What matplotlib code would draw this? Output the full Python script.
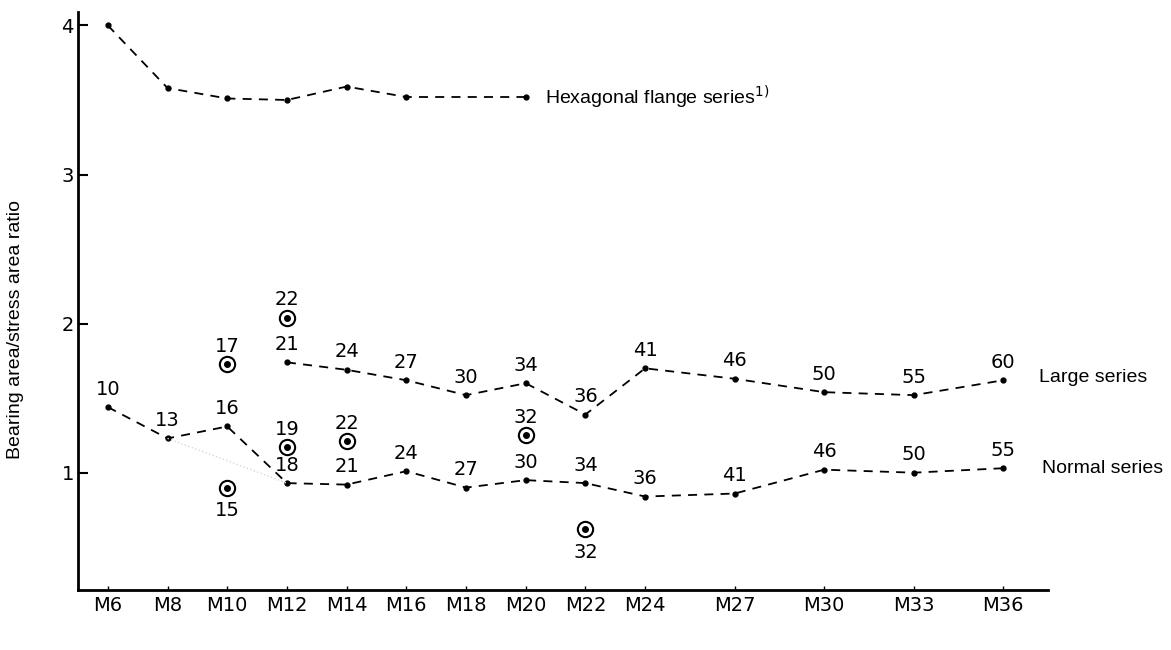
import matplotlib.pyplot as plt

# thread sizes and their nominal diameters (x position)
sizes = ['M6', 'M8', 'M10', 'M12', 'M14', 'M16', 'M18', 'M20', 'M22', 'M24',
         'M27', 'M30', 'M33', 'M36']
diam = [6, 8, 10, 12, 14, 16, 18, 20, 22, 24, 27, 30, 33, 36]

# hexagonal flange series
hex_d = [6, 8, 10, 12, 14, 16, 20]
hex_ratio = [4.00, 3.58, 3.51, 3.50, 3.59, 3.52, 3.52]

# large series (ratio + width across flats)
large_d = [12, 14, 16, 18, 20, 22, 24, 27, 30, 33, 36]
large_ratio = [1.74, 1.69, 1.62, 1.52, 1.60, 1.39, 1.70, 1.63, 1.54, 1.52, 1.62]
large_af = [21, 24, 27, 30, 34, 36, 41, 46, 50, 55, 60]

# normal series
normal_d = diam
normal_ratio = [1.44, 1.23, 1.31, 0.93, 0.92, 1.01, 0.90, 0.95, 0.93, 0.84,
                0.86, 1.02, 1.00, 1.03]
normal_af = [10, 13, 16, 18, 21, 24, 27, 30, 34, 36, 41, 46, 50, 55]

# alternative widths across flats (circled points)
alt_d = [10, 10, 12, 12, 14, 20, 22]
alt_ratio = [1.73, 0.90, 2.04, 1.17, 1.21, 1.25, 0.62]
alt_af = [17, 15, 22, 19, 22, 32, 32]
alt_below = [False, True, False, False, False, False, True]

num_font = ['Liberation Sans Narrow', 'DejaVu Sans Condensed', 'DejaVu Sans']
txt_font = ['Liberation Sans', 'DejaVu Sans']

fig = plt.figure(figsize=(11.71, 6.5), dpi=100)
ax = fig.add_axes([0.0666, 0.0923, 0.8284, 0.8892])

line_kw = dict(color='black', lw=1.3, linestyle=(0, (5, 4)), marker='o',
               markersize=3.5)
ax.plot(hex_d, hex_ratio, **line_kw)
ax.plot(large_d, large_ratio, **line_kw)
ax.plot(normal_d, normal_ratio, **line_kw)
# faint dotted trace between M8 and M12
ax.plot([normal_d[1], normal_d[3]], [normal_ratio[1], normal_ratio[3]],
        color='#d8d8d8', lw=1, linestyle=':')

# circled points
ax.plot(alt_d, alt_ratio, linestyle='none', marker='o', markersize=11,
        markerfacecolor='white', markeredgecolor='black', markeredgewidth=1.5)
ax.plot(alt_d, alt_ratio, linestyle='none', marker='o', markersize=4,
        color='black')

def label(xs, ys, vals, below=None):
    for i, (x, y, v) in enumerate(zip(xs, ys, vals)):
        dn = below[i] if below else False
        ax.annotate(str(v), (x, y), xytext=(0, -10 if dn else 6),
                    textcoords='offset points', ha='center',
                    va='top' if dn else 'bottom', fontsize=14,
                    family=num_font)

label(large_d, large_ratio, large_af)
label(normal_d, normal_ratio, normal_af)
label(alt_d, alt_ratio, alt_af, alt_below)

ax.annotate(r'Hexagonal flange series$^{1)}$', (hex_d[-1], hex_ratio[-1]),
            xytext=(14, 0), textcoords='offset points', va='center',
            fontsize=14, family=txt_font)
ax.annotate('Large series', (large_d[-1], large_ratio[-1]),
            xytext=(26, 2), textcoords='offset points', va='center',
            fontsize=14, family=txt_font)
ax.annotate('Normal series', (normal_d[-1], normal_ratio[-1]),
            xytext=(28, 0), textcoords='offset points', va='center',
            fontsize=14, family=txt_font)

ax.set_xlim(5.0, 37.5)
ax.set_ylim(0.213, 4.09)
ax.set_xticks(diam)
ax.set_xticklabels(sizes, fontsize=14, family=num_font)
ax.set_yticks([1, 2, 3, 4])
ax.set_yticklabels(['1', '2', '3', '4'], fontsize=14, family=num_font)
ax.tick_params(axis='y', direction='in', length=7, width=1.5, pad=3)
ax.tick_params(axis='x', direction='in', length=3, width=1, pad=4)
ax.set_ylabel('Bearing area/stress area ratio', fontsize=14, family=txt_font)
ax.yaxis.set_label_coords(-0.056, 0.45)

for s in ['top', 'right']:
    ax.spines[s].set_visible(False)
for s in ['left', 'bottom']:
    ax.spines[s].set_linewidth(2)

fig.savefig('out.png', dpi=100)
